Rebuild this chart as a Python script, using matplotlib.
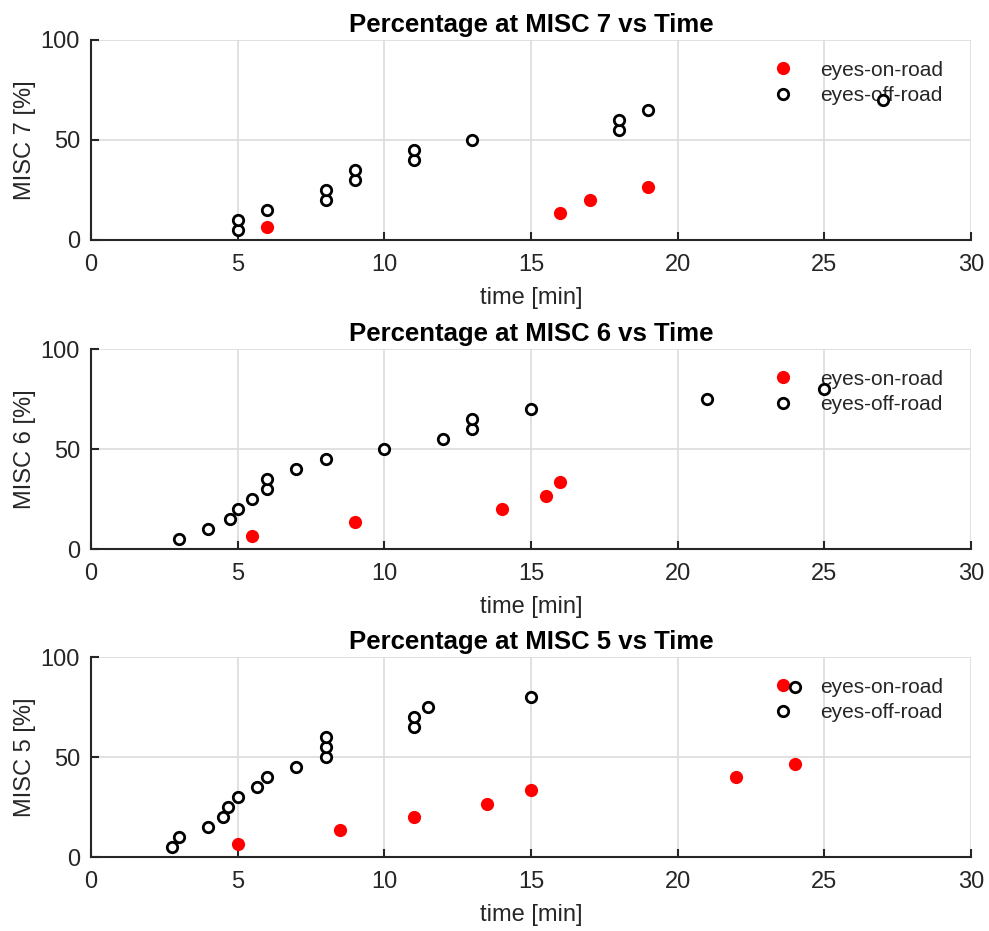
import matplotlib.pyplot as plt

plt.rcParams['font.family'] = ['Liberation Sans', 'DejaVu Sans']

# MISC 7
m7_off_t = [5, 5, 6, 8, 8, 9, 9, 11, 11, 13, 18, 18, 19, 27]
m7_off_p = [5, 10, 15, 20, 25, 30, 35, 40, 45, 50, 55, 60, 65, 70]
m7_on_t = [6, 16, 17, 19]
m7_on_p = [6.67, 13.33, 20, 26.67]

# MISC 6
m6_off_t = [3, 4, 4.75, 5, 5.5, 6, 6, 7, 8, 10, 12, 13, 13, 15, 21, 25]
m6_off_p = [5, 10, 15, 20, 25, 30, 35, 40, 45, 50, 55, 60, 65, 70, 75, 80]
m6_on_t = [5.5, 9, 14, 15.5, 16]
m6_on_p = [6.67, 13.33, 20, 26.67, 33.33]

# MISC 5
m5_off_t = [2.75, 3, 4, 4.5, 4.67, 5, 5.67, 6, 7, 8, 8, 8, 11, 11, 11.5, 15, 24]
m5_off_p = [5, 10, 15, 20, 25, 30, 35, 40, 45, 50, 55, 60, 65, 70, 75, 80, 85]
m5_on_t = [5, 8.5, 11, 13.5, 15, 22, 24]
m5_on_p = [6.67, 13.33, 20, 26.67, 33.33, 40, 46.67]

panels = [
    ("7", m7_on_t, m7_on_p, m7_off_t, m7_off_p),
    ("6", m6_on_t, m6_on_p, m6_off_t, m6_off_p),
    ("5", m5_on_t, m5_on_p, m5_off_t, m5_off_p),
]

fig = plt.figure(figsize=(9.89, 9.31), dpi=100)
bottoms = [1 - 240 / 931, 1 - 549 / 931, 1 - 857 / 931]
dark = '#262626'

for (lvl, on_t, on_p, off_t, off_p), b in zip(panels, bottoms):
    ax = fig.add_axes([91 / 989, b, 880 / 989, 200 / 931])
    ax.plot(on_t, on_p, 'o', color='red', markersize=9.5, markeredgewidth=0,
            label='eyes-on-road', zorder=4)
    ax.plot(off_t, off_p, 'o', markerfacecolor='white', markeredgecolor='black',
            markersize=7.5, markeredgewidth=2.0, label='eyes-off-road', zorder=4)
    ax.set_xlim(0, 30)
    ax.set_ylim(0, 100)
    ax.set_xticks([0, 5, 10, 15, 20, 25, 30])
    ax.set_yticks([0, 50, 100])
    ax.grid(True, color='#dcdcdc', linewidth=1.2)
    ax.set_axisbelow(True)
    for s in ['top', 'right']:
        ax.spines[s].set_visible(False)
    for s in ['left', 'bottom']:
        ax.spines[s].set_color(dark)
        ax.spines[s].set_linewidth(1.5)
    ax.tick_params(direction='in', length=6, width=1.5, color=dark,
                   labelcolor=dark, labelsize=17)
    ax.tick_params(axis='x', pad=10)
    ax.tick_params(axis='y', pad=8)
    ax.set_title(f'Percentage at MISC {lvl} vs Time', fontsize=18.5,
                 fontweight='bold', pad=6)
    ax.set_xlabel('time [min]', fontsize=17, color=dark, labelpad=8)
    ax.set_ylabel(f'MISC {lvl} [%]', fontsize=17, color=dark, labelpad=3)
    leg = ax.legend(loc='upper right', bbox_to_anchor=(0.99, 0.99),
                    frameon=False, fontsize=15, handlelength=1.0,
                    handletextpad=1.3, labelspacing=0.3, labelcolor=dark)
    leg.set_zorder(2)

fig.savefig('out.png', dpi=100)
